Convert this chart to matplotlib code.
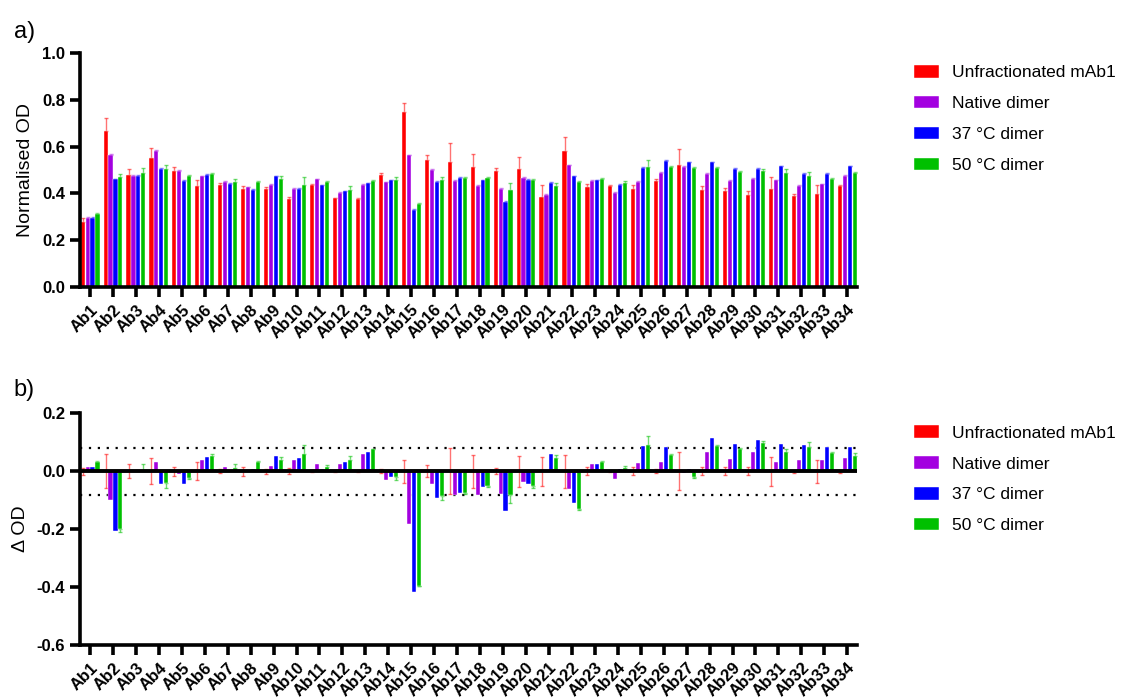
import numpy as np
import matplotlib.pyplot as plt

plt.rcParams["font.family"] = ["Liberation Sans", "DejaVu Sans"]

# --- Data ---
antibodies = [f"Ab{i}" for i in range(1, 35)]
series_names = ["Unfractionated mAb1", "Native dimer", "37 \u00b0C dimer", "50 \u00b0C dimer"]
colors = ["#ff0000", "#a300e0", "#0000ff", "#00c000"]

# a) normalised OD
od_unfrac = [0.279, 0.667, 0.479, 0.550, 0.496, 0.430, 0.437, 0.420, 0.420, 0.376,
             0.436, 0.379, 0.376, 0.480, 0.746, 0.543, 0.536, 0.513, 0.496, 0.503,
             0.383, 0.579, 0.426, 0.430, 0.419, 0.453, 0.520, 0.416, 0.409, 0.393,
             0.419, 0.390, 0.397, 0.431]
od_native = [0.296, 0.566, 0.474, 0.583, 0.496, 0.473, 0.449, 0.426, 0.436, 0.419,
             0.460, 0.403, 0.436, 0.447, 0.563, 0.499, 0.453, 0.433, 0.419, 0.466,
             0.393, 0.520, 0.453, 0.403, 0.449, 0.489, 0.513, 0.483, 0.453, 0.463,
             0.456, 0.433, 0.439, 0.476]
od_37 = [0.296, 0.460, 0.474, 0.504, 0.453, 0.480, 0.440, 0.416, 0.473, 0.419,
         0.434, 0.409, 0.443, 0.456, 0.330, 0.449, 0.466, 0.456, 0.363, 0.459,
         0.446, 0.473, 0.456, 0.436, 0.510, 0.539, 0.533, 0.533, 0.506, 0.506,
         0.516, 0.483, 0.483, 0.516]
od_50 = [0.311, 0.470, 0.487, 0.506, 0.476, 0.483, 0.449, 0.450, 0.463, 0.434,
         0.449, 0.416, 0.454, 0.459, 0.354, 0.457, 0.466, 0.467, 0.416, 0.456,
         0.433, 0.450, 0.461, 0.446, 0.513, 0.511, 0.507, 0.509, 0.491, 0.497,
         0.486, 0.476, 0.463, 0.486]
od_unfrac_err = [0.014, 0.054, 0.025, 0.046, 0.015, 0.029, 0.006, 0.013, 0.009, 0.010,
                 0.004, 0.003, 0.006, 0.005, 0.040, 0.020, 0.081, 0.057, 0.013, 0.053,
                 0.053, 0.060, 0.015, 0.004, 0.015, 0.008, 0.069, 0.017, 0.015, 0.016,
                 0.051, 0.006, 0.039, 0.004]
od_native_err = [0.003] * 34
od_37_err = [0.003] * 34
od_50_err = [0.004, 0.014, 0.020, 0.015, 0.004, 0.004, 0.012, 0.004, 0.010, 0.035,
             0.004, 0.014, 0.004, 0.010, 0.004, 0.012, 0.004, 0.004, 0.030, 0.004,
             0.010, 0.004, 0.004, 0.006, 0.028, 0.004, 0.004, 0.004, 0.004, 0.006,
             0.017, 0.017, 0.004, 0.007]

# b) delta OD (relative to unfractionated mAb1)
d_unfrac = [0.0] * 34
d_native = [0.014, -0.101, 0.0, 0.033, -0.009, 0.040, 0.015, 0.0, 0.017, 0.040,
            0.025, 0.025, 0.060, -0.032, -0.183, -0.046, -0.083, -0.083, -0.080, -0.037,
            0.0, -0.063, 0.025, -0.026, 0.029, 0.031, -0.008, 0.066, 0.041, 0.066,
            0.033, 0.039, 0.039, 0.044]
d_37 = [0.015, -0.207, 0.0, -0.046, -0.044, 0.049, 0.0, 0.006, 0.052, 0.044,
        0.008, 0.031, 0.066, -0.021, -0.417, -0.094, -0.074, -0.056, -0.137, -0.045,
        0.058, -0.109, 0.025, 0.006, 0.087, 0.082, 0.007, 0.114, 0.093, 0.108,
        0.093, 0.090, 0.084, 0.084]
d_50 = [0.031, -0.199, 0.0, -0.040, -0.023, 0.052, 0.012, 0.031, 0.040, 0.058,
        0.015, 0.037, 0.075, -0.021, -0.395, -0.086, -0.076, -0.052, -0.083, -0.051,
        0.047, -0.132, 0.031, 0.011, 0.091, 0.055, -0.020, 0.087, 0.078, 0.098,
        0.066, 0.085, 0.063, 0.052]
d_unfrac_err = [0.012, 0.058, 0.025, 0.046, 0.016, 0.030, 0.007, 0.016, 0.009, 0.010,
                0.004, 0.004, 0.004, 0.006, 0.040, 0.020, 0.080, 0.057, 0.011, 0.053,
                0.050, 0.057, 0.014, 0.003, 0.014, 0.008, 0.066, 0.015, 0.014, 0.014,
                0.050, 0.005, 0.040, 0.005]
d_50_err = [0.003, 0.012, 0.025, 0.018, 0.003, 0.006, 0.012, 0.003, 0.010, 0.033,
            0.005, 0.014, 0.003, 0.010, 0.003, 0.012, 0.003, 0.003, 0.027, 0.006,
            0.008, 0.003, 0.003, 0.006, 0.031, 0.003, 0.004, 0.005, 0.003, 0.006,
            0.012, 0.016, 0.004, 0.009]

# --- Layout ---
fig = plt.figure(figsize=(11.26, 6.98), dpi=100)
ax_a = fig.add_axes([0.071, 0.589, 0.690, 0.335])
ax_b = fig.add_axes([0.071, 0.076, 0.690, 0.332])

x = np.arange(len(antibodies))
pitch = 0.215
bar_w = 0.18
offsets = (np.arange(4) - 1.5) * pitch


def style_axes(ax):
    for side in ["top", "right"]:
        ax.spines[side].set_visible(False)
    for side in ["left", "bottom"]:
        ax.spines[side].set_linewidth(2.6)
    ax.tick_params(axis="both", width=2.6, length=7, labelsize=12)
    ax.set_xticks(x)
    ax.set_xticklabels(antibodies, rotation=45, ha="right", rotation_mode="anchor",
                       fontweight="bold", fontsize=12)
    ax.tick_params(axis="x", pad=4)
    for lab in ax.get_yticklabels():
        lab.set_fontweight("bold")
    ax.set_xlim(-0.44, 33.42)


def add_legend(ax):
    ax.legend(loc="upper left", bbox_to_anchor=(1.058, 1.0), frameon=False,
              fontsize=12.5, handlelength=1.45, handleheight=0.72, labelspacing=0.9,
              handletextpad=0.75, borderaxespad=0.3)


# --- a) ---
a_vals = [od_unfrac, od_native, od_37, od_50]
a_errs = [od_unfrac_err, od_native_err, od_37_err, od_50_err]
for i in range(4):
    vals = np.array(a_vals[i])
    err = np.array(a_errs[i])
    ax_a.bar(x + offsets[i], vals, width=bar_w, color=colors[i], edgecolor="white",
             linewidth=0.3, label=series_names[i], zorder=2)
    ax_a.errorbar(x + offsets[i], vals, yerr=[np.zeros_like(err), err], fmt="none",
                  ecolor=colors[i], alpha=0.55, elinewidth=1, capsize=1.5, zorder=1)
ax_a.set_ylim(0, 1.0)
ax_a.set_yticks([0.0, 0.2, 0.4, 0.6, 0.8, 1.0])
ax_a.set_yticklabels(["0.0", "0.2", "0.4", "0.6", "0.8", "1.0"])
ax_a.set_ylabel("Normalised OD", fontsize=14, labelpad=6)
style_axes(ax_a)
add_legend(ax_a)

# --- b) ---
b_vals = [d_unfrac, d_native, d_37, d_50]
for i in range(4):
    vals = np.array(b_vals[i])
    ax_b.bar(x + offsets[i], vals, width=bar_w, color=colors[i], edgecolor="white",
             linewidth=0.3, label=series_names[i], zorder=2)
# unfractionated error bars both ways
ax_b.errorbar(x + offsets[0], d_unfrac, yerr=d_unfrac_err, fmt="none",
              ecolor=colors[0], alpha=0.55, elinewidth=1, capsize=1.5, zorder=1)
# 50 °C error bars away from zero
v50 = np.array(d_50)
e50 = np.array(d_50_err)
up = np.where(v50 >= 0, e50, 0)
dn = np.where(v50 < 0, e50, 0)
ax_b.errorbar(x + offsets[3], v50, yerr=[dn, up], fmt="none", ecolor=colors[3],
              alpha=0.55, elinewidth=1, capsize=1.5, zorder=1)
ax_b.axhline(0, color="black", lw=2.8, zorder=3)
ax_b.axhline(0.08, color="black", lw=1.6, ls=(0, (1, 3)), zorder=0)
ax_b.axhline(-0.082, color="black", lw=1.6, ls=(0, (1, 3)), zorder=0)
ax_b.set_ylim(-0.6, 0.2)
ax_b.set_yticks([-0.6, -0.4, -0.2, 0.0, 0.2])
ax_b.set_yticklabels(["-0.6", "-0.4", "-0.2", "0.0", "0.2"])
ax_b.set_ylabel("\u0394 OD", fontsize=14, labelpad=6)
style_axes(ax_b)
add_legend(ax_b)

fig.text(0.012, 0.945, "a)", fontsize=17)
fig.text(0.012, 0.432, "b)", fontsize=17)

fig.savefig("out.png", dpi=100)
